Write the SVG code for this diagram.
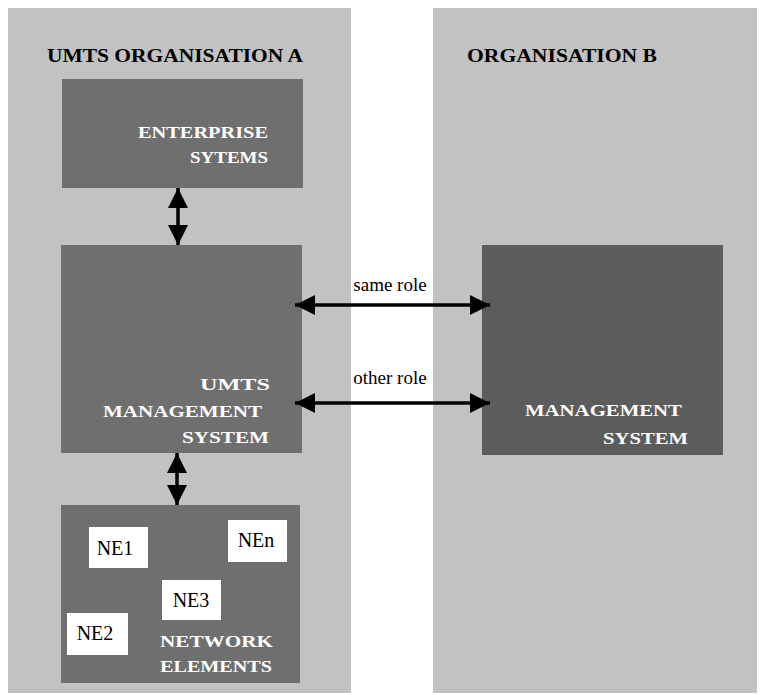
<svg xmlns="http://www.w3.org/2000/svg" width="761" height="695" viewBox="0 0 761 695">
  <style>
    .panel { fill: #c2c2c2; }
    .box { fill: #6f6f6f; }
    .boxDark { fill: #5c5c5c; }
    .ne { fill: #ffffff; }
    .title { font-family: "Liberation Serif", serif; font-weight: bold; font-size: 19px; fill: #000; }
    .boxText { font-family: "Liberation Serif", serif; font-weight: bold; font-size: 17px; fill: #ffffff; }
    .neText { font-family: "Liberation Serif", serif; font-size: 20px; fill: #000; text-anchor: middle; }
    .label { font-family: "Liberation Serif", serif; font-size: 19px; fill: #000; text-anchor: middle; }
    .link { stroke: #000; stroke-width: 3.5; fill: none; marker-start: url(#head); marker-end: url(#head); }
  </style>
  <defs>
    <marker id="head" viewBox="0 0 20 20" refX="20" refY="10" markerWidth="21" markerHeight="20" markerUnits="userSpaceOnUse" orient="auto-start-reverse">
      <path d="M0,0 L20,10 L0,20 Z" fill="#000"/>
    </marker>
  </defs>

  <rect width="761" height="695" fill="#ffffff"/>

  <!-- organisation panels -->
  <g id="org-a">
    <rect class="panel" x="8" y="8" width="343" height="685"/>
    <text class="title" x="47" y="62" textLength="256" lengthAdjust="spacingAndGlyphs">UMTS ORGANISATION A</text>
  </g>
  <g id="org-b">
    <rect class="panel" x="433" y="8" width="324" height="685"/>
    <text class="title" x="467" y="62" textLength="190" lengthAdjust="spacingAndGlyphs">ORGANISATION B</text>
  </g>

  <!-- systems of organisation A -->
  <g id="enterprise-systems">
    <rect class="box" x="62" y="79" width="241" height="109"/>
    <text class="boxText" x="138" y="138" textLength="130" lengthAdjust="spacingAndGlyphs">ENTERPRISE</text>
    <text class="boxText" x="190" y="163" textLength="78" lengthAdjust="spacingAndGlyphs">SYTEMS</text>
  </g>

  <g id="umts-management-system">
    <rect class="box" x="61" y="245" width="241" height="208"/>
    <text class="boxText" x="200" y="390" textLength="70" lengthAdjust="spacingAndGlyphs">UMTS</text>
    <text class="boxText" x="103" y="417" textLength="159" lengthAdjust="spacingAndGlyphs">MANAGEMENT</text>
    <text class="boxText" x="182" y="443" textLength="87" lengthAdjust="spacingAndGlyphs">SYSTEM</text>
  </g>

  <g id="network-elements">
    <rect class="box" x="61" y="505" width="239" height="178"/>
    <text class="boxText" x="160" y="647" textLength="113" lengthAdjust="spacingAndGlyphs">NETWORK</text>
    <text class="boxText" x="160" y="672" textLength="112" lengthAdjust="spacingAndGlyphs">ELEMENTS</text>
    <g id="ne1">
      <rect class="ne" x="89" y="527" width="59" height="41"/>
      <text class="neText" x="115" y="555">NE1</text>
    </g>
    <g id="nen">
      <rect class="ne" x="228" y="520" width="59" height="42"/>
      <text class="neText" x="256" y="547">NEn</text>
    </g>
    <g id="ne3">
      <rect class="ne" x="162" y="580" width="59" height="40"/>
      <text class="neText" x="191" y="607">NE3</text>
    </g>
    <g id="ne2">
      <rect class="ne" x="67" y="613" width="61" height="42"/>
      <text class="neText" x="95" y="640">NE2</text>
    </g>
  </g>

  <!-- system of organisation B -->
  <g id="management-system-b">
    <rect class="boxDark" x="482" y="245" width="241" height="210"/>
    <text class="boxText" x="525" y="416" textLength="157" lengthAdjust="spacingAndGlyphs">MANAGEMENT</text>
    <text class="boxText" x="603" y="444" textLength="85" lengthAdjust="spacingAndGlyphs">SYSTEM</text>
  </g>

  <!-- connectors -->
  <g id="connectors">
    <line class="link" x1="178" y1="188" x2="178" y2="245"/>
    <line class="link" x1="177" y1="453" x2="177" y2="505"/>
    <line class="link" x1="295" y1="305" x2="490" y2="305"/>
    <line class="link" x1="295" y1="403" x2="490" y2="403"/>
    <text class="label" x="390" y="291">same role</text>
    <text class="label" x="390" y="384">other role</text>
  </g>
</svg>
